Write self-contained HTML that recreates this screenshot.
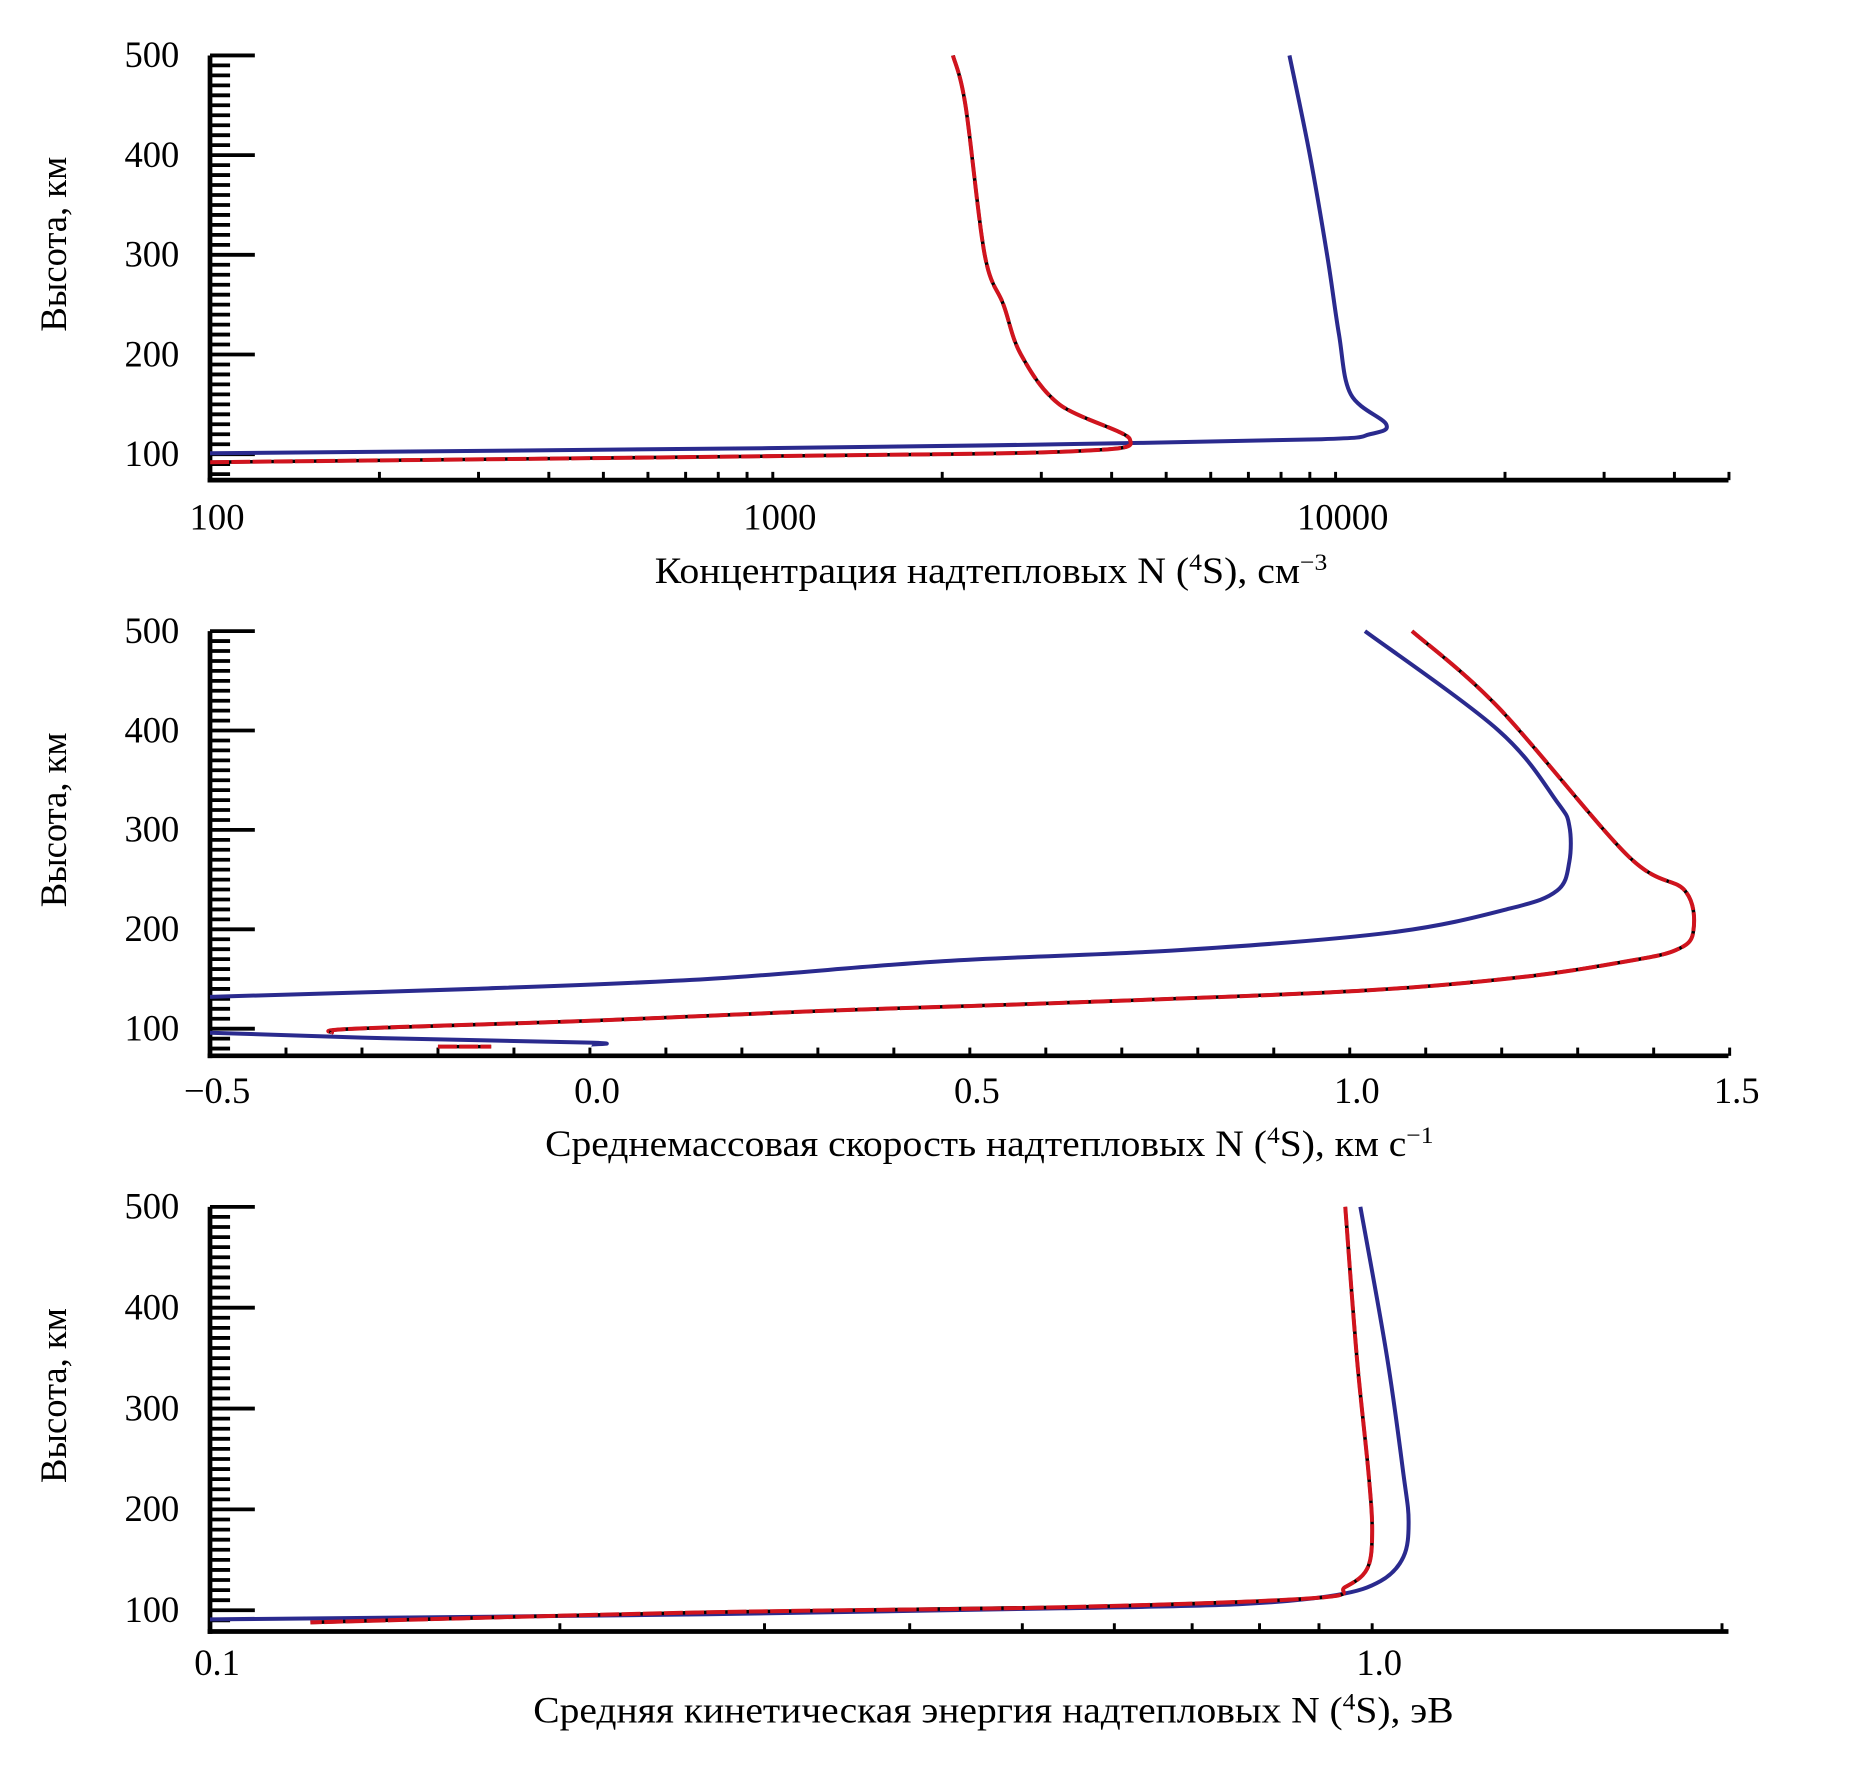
<!DOCTYPE html>
<html><head><meta charset="utf-8"><style>
html,body{margin:0;padding:0;background:#fff}
svg{display:block}
text{font-family:"Liberation Serif",serif;fill:#000}
</style></head><body>
<svg id="chart" width="1850" height="1766" viewBox="0 0 1568 1497" preserveAspectRatio="none" xmlns="http://www.w3.org/2000/svg"></svg>
<script>
// Panel 1: concentration (log x)
const p1Ticks = [100, 1000, 10000];
const p1TickLabels = ["100", "1000", "10000"];
const p1RedAlt = [500, 450, 300, 250, 200, 150, 115, 103, 98, 92];
const p1RedVal = [2090, 2200, 2380, 2570, 2760, 3230, 4310, 3430, 975, 100];
const p1BlueAlt = [500, 400, 300, 220, 160, 130, 120, 115, 110, 106, 101];
const p1BlueVal = [8280, 9000, 9660, 10140, 10640, 12300, 11500, 9440, 3230, 980, 100];
// Panel 2: velocity (linear x)
const p2Ticks = [-0.5, 0.0, 0.5, 1.0, 1.5];
const p2TickLabels = ["\u22120.5", "0.0", "0.5", "1.0", "1.5"];
const p2BlueAlt = [500, 400, 328, 304, 268, 239, 221, 197, 179, 168, 150, 140, 132];
const p2BlueVal = [1.02, 1.196, 1.273, 1.289, 1.289, 1.273, 1.211, 1.056, 0.776, 0.466, 0.155, -0.155, -0.5];
const p2BlueLowAlt = [96, 91, 86, 84];
const p2BlueLowVal = [-0.5, -0.3, 0.0, 0.0];
const p2RedAlt = [500, 423, 274, 239, 197, 179, 168, 152, 138, 126, 118, 108, 100, 96];
const p2RedVal = [1.082, 1.196, 1.366, 1.441, 1.452, 1.429, 1.366, 1.227, 1.009, 0.621, 0.31, 0.0, -0.31, -0.34];
const p2RedLowAlt = [82, 82];
const p2RedLowVal = [-0.2, -0.13];
// Panel 3: energy (log x)
const p3Ticks = [0.1, 1.0];
const p3TickLabels = ["0.1", "1.0"];
const p3RedAlt = [500, 351, 235, 176, 141, 123, 112, 103, 98, 88];
const p3RedVal = [0.948, 0.97, 0.993, 1.0, 0.99, 0.948, 0.89, 0.54, 0.268, 0.122];
const p3BlueAlt = [500, 351, 235, 188, 153, 129, 115, 106, 102, 96, 91];
const p3BlueVal = [0.977, 1.03, 1.064, 1.075, 1.064, 1.017, 0.93, 0.767, 0.54, 0.268, 0.1];

const NS = "http://www.w3.org/2000/svg";
const svg = document.getElementById('chart');
function el(tag, attrs, parent, text) {
  const e = document.createElementNS(NS, tag);
  for (const k in attrs) e.setAttribute(k, attrs[k]);
  if (text !== undefined) e.textContent = text;
  (parent || svg).appendChild(e);
  return e;
}
const X0 = 178, X1 = 1465;

function smoothPath(pts) {
  if (pts.length < 3) return pts.map((p, i) => (i ? 'L' : 'M') + p[0].toFixed(1) + ' ' + p[1].toFixed(1)).join(' ');
  let d = 'M' + pts[0][0].toFixed(1) + ' ' + pts[0][1].toFixed(1);
  for (let i = 0; i < pts.length - 1; i++) {
    const p0 = pts[i - 1] || pts[i], p1 = pts[i], p2 = pts[i + 1], p3 = pts[i + 2] || pts[i + 1];
    const t = 1 / 6;
    const c1 = [p1[0] + (p2[0] - p0[0]) * t, p1[1] + (p2[1] - p0[1]) * t];
    const c2 = [p2[0] - (p3[0] - p1[0]) * t, p2[1] - (p3[1] - p1[1]) * t];
    d += ` C${c1[0].toFixed(1)} ${c1[1].toFixed(1)} ${c2[0].toFixed(1)} ${c2[1].toFixed(1)} ${p2[0].toFixed(1)} ${p2[1].toFixed(1)}`;
  }
  return d;
}

function makePanel(cfg) {
  const g = el('g', {});
  
  
  const yTop = cfg.yTop, y100 = cfg.y100, yBot = cfg.yBot;
  const ys = a => y100 - (a - 100) * (y100 - yTop) / 400;
  const xs = cfg.xs;
  for (let a = 80; a <= 500; a += 10) {
    const y = ys(a);
    if (y > yBot - 3) continue;
    const major = a % 100 === 0;
    const t = el('line', {x1: X0, x2: X0 + (major ? 38 : 17), y1: y, y2: y, stroke: '#000', 'stroke-width': 3.2}, g);
    
    
    if (major) {
      const l = el('text', {x: 152, y: y + 10, 'text-anchor': 'end', 'font-size': 31}, g, String(a));
      
      
    }
  }
  const ya = el('line', {x1: X0, x2: X0, y1: yTop, y2: yBot + 2, stroke: '#000', 'stroke-width': 4}, g);
  
  
  const xa = el('line', {x1: X0 - 2, x2: X1, y1: yBot, y2: yBot, stroke: '#000', 'stroke-width': 4}, g);
  
  
  cfg.minor.forEach(v => {
    const x = xs(v);
    const t = el('line', {x1: x, x2: x, y1: yBot, y2: yBot - 7, stroke: '#000', 'stroke-width': 2.5}, g);
    
    
  });
  cfg.ticks.forEach((v, i) => {
    const l = el('text', {x: xs(v) + 6, y: yBot + cfg.labOff, 'text-anchor': 'middle', 'font-size': 31}, g, cfg.labels[i]);
    
    
  });
  const yt = el('text', {x: 0, y: 0, 'text-anchor': 'middle', 'font-size': 31, transform: `translate(56,${yTop + 160}) rotate(-90)`}, g, 'Высота, км');
  
  
  const xt = el('text', {x: cfg.titleX, y: yBot + cfg.titleOff, 'font-size': 31, textLength: cfg.titleLen, lengthAdjust: 'spacingAndGlyphs'}, g);
  
  
  xt.appendChild(document.createTextNode(cfg.title[0]));
  el('tspan', {dy: -11, 'font-size': 20}, xt, cfg.title[1]);
  el('tspan', {dy: 11}, xt, cfg.title[2]);
  if (cfg.title[3]) el('tspan', {dy: -11, 'font-size': 20}, xt, cfg.title[3]);
  function curve(vals, alts, color, name, dashed) {
    const d = smoothPath(vals.map((v, i) => [xs(v), ys(alts[i])]));
    if (dashed) {
      const b = el('path', {d, fill: 'none', stroke: '#000', 'stroke-width': 3, 'stroke-linejoin': 'round'}, g);
      
      
      const r = el('path', {d, fill: 'none', stroke: '#d0141e', 'stroke-width': 3.4, 'stroke-dasharray': '16 2', 'stroke-linejoin': 'round'}, g);
      
      
    } else {
      const p = el('path', {d, fill: 'none', stroke: color, 'stroke-width': 3.4, 'stroke-linejoin': 'round'}, g);
      
      
    }
  }
  cfg.series.forEach(s => curve(s[0], s[1], s[2], s[3], s[4]));
}

const log10 = Math.log10;
function logMinor(lo, hi, max) {
  const out = [];
  for (let d = lo; d < hi; d *= 10) for (let k = 1; k < 10; k++) { const v = d * k; if (v <= max) out.push(v); }
  return out;
}
makePanel({
  name: 'concentration-panel', yTop: 47, y100: 385, yBot: 407, labOff: 42, titleOff: 87,
  xs: v => X0 + (log10(v) - 2) * 477,
  ticks: p1Ticks, labels: p1TickLabels, minor: logMinor(100, 100000, 50000),
  titleX: 555, titleLen: 570, title: ['Концентрация надтепловых N (', '4', 'S), см', '\u22123'],
  series: [[p1BlueVal, p1BlueAlt, '#2a2a8e', 'blue-concentration'], [p1RedVal, p1RedAlt, '#d0141e', 'red-concentration', true]]
});
const p2Minor = []; for (let i = -5; i <= 15; i++) p2Minor.push(i / 10);
makePanel({
  name: 'velocity-panel', yTop: 535, y100: 872, yBot: 895, labOff: 40, titleOff: 85,
  xs: v => X0 + (v + 0.5) * 644,
  ticks: p2Ticks, labels: p2TickLabels, minor: p2Minor,
  titleX: 462, titleLen: 753, title: ['Среднемассовая скорость надтепловых N (', '4', 'S), км с', '\u22121'],
  series: [[p2BlueVal, p2BlueAlt, '#2a2a8e', 'blue-velocity'], [p2BlueLowVal, p2BlueLowAlt, '#2a2a8e', 'blue-velocity-low'],
           [p2RedVal, p2RedAlt, '#d0141e', 'red-velocity', true], [p2RedLowVal, p2RedLowAlt, '#d0141e', 'red-velocity-low', true]]
});
makePanel({
  name: 'energy-panel', yTop: 1023, y100: 1365, yBot: 1383, labOff: 37, titleOff: 77,
  xs: v => X0 + (log10(v) + 1) * 985,
  ticks: p3Ticks, labels: p3TickLabels, minor: logMinor(0.1, 10, 2.0),
  titleX: 452, titleLen: 780, title: ['Средняя кинетическая энергия надтепловых N (', '4', 'S), эВ', ''],
  series: [[p3BlueVal, p3BlueAlt, '#2a2a8e', 'blue-energy'], [p3RedVal, p3RedAlt, '#d0141e', 'red-energy', true]]
});
</script>
</body></html>
